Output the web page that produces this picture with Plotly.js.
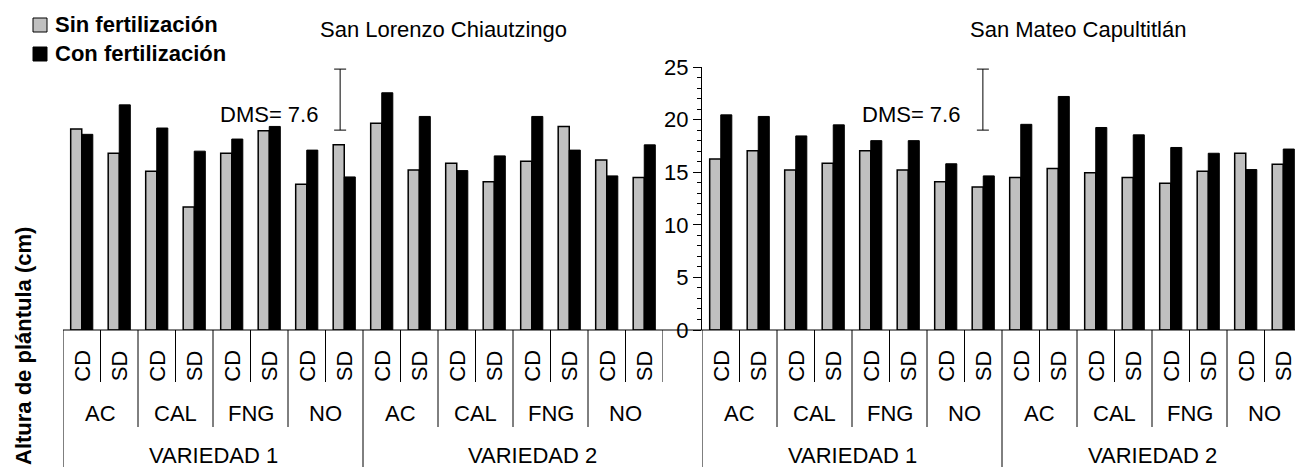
<!DOCTYPE html>
<html>
<head>
<meta charset="utf-8">
<script src="https://cdn.plot.ly/plotly-3.0.1.min.js"></script>
<style>html,body{margin:0;padding:0;background:#fff;}#chart{width:1295px;height:467px;}</style>
</head>
<body>
<div id="chart"></div>
<script>
// ---- Data ----
const subLabels = ['CD', 'SD'];
const treatments = ['AC', 'CAL', 'FNG', 'NO'];
const varieties = ['VARIEDAD 1', 'VARIEDAD 2'];
const seriesNames = ['Sin fertilización', 'Con fertilización'];
const panelTitles = ['San Lorenzo Chiautzingo', 'San Mateo Capultitlán'];

const lorenzoSin = [19.1, 16.8, 15.1, 11.7, 16.8, 18.95, 13.85, 17.6, 19.65, 15.2, 15.85, 14.1, 16.05, 19.35, 16.15, 14.5];
const lorenzoCon = [18.6, 21.4, 19.2, 17.0, 18.15, 19.35, 17.1, 14.55, 22.55, 20.3, 15.15, 16.55, 20.3, 17.1, 14.65, 17.6];
const mateoSin = [16.25, 17.05, 15.2, 15.85, 17.05, 15.2, 14.1, 13.6, 14.5, 15.35, 14.95, 14.5, 13.95, 15.1, 16.8, 15.75];
const mateoCon = [20.45, 20.3, 18.45, 19.5, 18.0, 18.0, 15.8, 14.65, 19.55, 22.2, 19.25, 18.55, 17.35, 16.8, 15.25, 17.2];

const dmsValue = 7.6;
const yTitle = 'Altura de plántula (cm)';

// ---- Layout geometry ----
const W = 1295, H = 467;
const plotTop = 67, baseY = 330;
const leftX0 = 63, leftX1 = 663, rightX0 = 702;
const FONT = 'Liberation Sans, Arial, Helvetica, sans-serif';
const FS = 22;
const GRAY = '#c0c0c0';

const nCat = varieties.length * treatments.length * subLabels.length;
const idx = Array.from({length: nCat}, (_, i) => i);
const catW = (leftX1 - leftX0) / nCat;
const yDomain = [1 - baseY / H, 1 - plotTop / H];
const py = p => 1 - p / H; // pixel-from-top -> paper
const px = p => p / W;

const xLeft = {domain: [px(leftX0), px(leftX1)], range: [-0.5, nCat - 0.5]};
const xRight = {domain: [px(rightX0), 1], range: [-0.5, -0.5 + (W - rightX0) / catW]};

function barTraces(sin, con, xa, ya) {
  return [
    {type: 'bar', x: idx, y: sin, name: seriesNames[0], xaxis: xa, yaxis: ya,
     marker: {color: GRAY, line: {color: '#000', width: 1.5}}, showlegend: false, hoverinfo: 'y'},
    {type: 'bar', x: idx, y: con, name: seriesNames[1], xaxis: xa, yaxis: ya,
     marker: {color: '#000', line: {color: '#000', width: 1}}, showlegend: false, hoverinfo: 'y'}
  ];
}

// DMS marker positions (annotation-like reference bars)
const dmsPos = [{x: 6.89, xa: 'x', ya: 'y'}, {x: 6.99, xa: 'x2', ya: 'y2'}];
const dmsLow = 19.0, dmsHigh = 24.8;

const traces = [
  ...barTraces(lorenzoSin, lorenzoCon, 'x', 'y'),
  ...barTraces(mateoSin, mateoCon, 'x2', 'y2'),
  ...dmsPos.map(d => ({
    type: 'scatter', mode: 'markers', x: [d.x], y: [(dmsLow + dmsHigh) / 2], xaxis: d.xa, yaxis: d.ya,
    marker: {size: 1, color: 'rgba(0,0,0,0)'}, showlegend: false, hoverinfo: 'skip',
    error_y: {type: 'data', array: [(dmsHigh - dmsLow) / 2], symmetric: true, color: '#000', thickness: 1, width: 6}
  }))
];

const shapes = [];
const annotations = [];

// baseline across both panels
shapes.push({type: 'line', xref: 'paper', yref: 'paper', x0: px(leftX0), x1: 1, y0: py(baseY), y1: py(baseY),
  line: {color: '#000', width: 1}});

const yShort = 382, yMed = 427, yFull = H;
function panelDecor(xa, panelStartPx, panelEndPx, isLeft) {
  const perVar = treatments.length * subLabels.length;
  for (let k = 0; k <= nCat; k++) {
    let bottom;
    if (k % perVar === 0 && k < nCat) bottom = yFull;
    else if (k % subLabels.length === 0 && k < nCat) bottom = yMed;
    else bottom = yShort;
    if (!isLeft && k === 0) bottom = yFull;
    shapes.push({type: 'line', xref: xa, yref: 'paper', x0: k - 0.5, x1: k - 0.5, y0: py(baseY), y1: py(bottom),
      line: {color: '#000', width: 1}});
  }
  // sub labels
  idx.forEach(i => annotations.push({xref: xa, yref: 'paper', x: i, y: py(366), text: subLabels[i % subLabels.length],
    textangle: -90, showarrow: false, font: {family: FONT, size: FS, color: '#000'}, xanchor: 'center', yanchor: 'middle'}));
  // treatment labels
  for (let g = 0; g < varieties.length * treatments.length; g++) {
    annotations.push({xref: xa, yref: 'paper', x: g * subLabels.length + (subLabels.length - 1) / 2, y: py(413),
      text: treatments[g % treatments.length], showarrow: false, font: {family: FONT, size: FS, color: '#000'},
      xanchor: 'center', yanchor: 'middle'});
  }
  // variety labels
  varieties.forEach((v, vi) => {
    const s = panelStartPx + vi * perVar * catW;
    const e = (vi === varieties.length - 1) ? panelEndPx : s + perVar * catW;
    annotations.push({xref: 'paper', yref: 'paper', x: px((s + e) / 2), y: py(455), text: v, showarrow: false,
      font: {family: FONT, size: FS, color: '#000'}, xanchor: 'center', yanchor: 'middle'});
  });
}
panelDecor('x', leftX0, rightX0, true);
panelDecor('x2', rightX0, rightX0 + nCat * catW, false);

// DMS text
dmsPos.forEach(d => annotations.push({xref: d.xa, yref: d.ya, x: d.x - 0.55, y: 20.45, text: 'DMS= ' + dmsValue,
  showarrow: false, xanchor: 'right', yanchor: 'middle', font: {family: FONT, size: FS, color: '#000'}}));

// Titles
annotations.push({xref: 'paper', yref: 'paper', x: px(443), y: py(29), text: panelTitles[0], showarrow: false,
  xanchor: 'center', yanchor: 'middle', font: {family: FONT, size: FS, color: '#000'}});
annotations.push({xref: 'paper', yref: 'paper', x: px(1078), y: py(29), text: panelTitles[1], showarrow: false,
  xanchor: 'center', yanchor: 'middle', font: {family: FONT, size: FS, color: '#000'}});

// Y title
annotations.push({xref: 'paper', yref: 'paper', x: px(23), y: py(346), text: '<b>' + yTitle + '</b>', textangle: -90,
  showarrow: false, xanchor: 'center', yanchor: 'middle', font: {family: FONT, size: FS, color: '#000'}});

// Legend (manual)
const legendRows = [{y: 25, fill: GRAY}, {y: 54, fill: '#000'}];
legendRows.forEach((r, i) => {
  shapes.push({type: 'rect', xref: 'paper', yref: 'paper', x0: px(33), x1: px(47), y0: py(r.y - 7), y1: py(r.y + 7),
    fillcolor: r.fill, line: {color: '#000', width: 1}});
  annotations.push({xref: 'paper', yref: 'paper', x: px(53), y: py(r.y), text: '<b>' + seriesNames[i] + '</b>',
    showarrow: false, xanchor: 'left', yanchor: 'middle', font: {family: FONT, size: FS, color: '#000'}});
});

const axisCommon = {showticklabels: false, ticks: '', showgrid: false, zeroline: false, showline: false, fixedrange: true};
const layout = {
  width: W, height: H,
  margin: {l: 0, r: 0, t: 0, b: 0},
  paper_bgcolor: '#fff', plot_bgcolor: 'rgba(0,0,0,0)',
  barmode: 'group', bargap: 0.41, bargroupgap: 0,
  showlegend: false,
  font: {family: FONT, size: FS, color: '#000'},
  xaxis: Object.assign({}, axisCommon, xLeft, {anchor: 'y'}),
  xaxis2: Object.assign({}, axisCommon, xRight, {anchor: 'y2'}),
  yaxis: {domain: yDomain, range: [0, 25], visible: false, anchor: 'x', fixedrange: true},
  yaxis2: {domain: yDomain, range: [0, 25], anchor: 'x2', showline: true, linecolor: '#000', linewidth: 1,
    ticks: 'outside', ticklen: 8, tickcolor: '#000', dtick: 5, tick0: 0, showgrid: false, zeroline: false,
    tickfont: {family: FONT, size: FS, color: '#000'}, fixedrange: true,
    minor: {dtick: 1, ticks: 'outside', ticklen: 4, tickcolor: '#000', showgrid: false}},
  shapes: shapes,
  annotations: annotations
};

Plotly.newPlot('chart', traces, layout, {displayModeBar: false, staticPlot: true});
</script>
</body>
</html>
